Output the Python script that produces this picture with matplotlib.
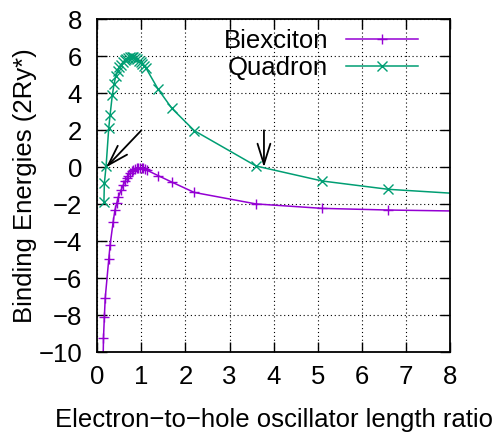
import numpy as np
import matplotlib
matplotlib.use("Agg")
import matplotlib.pyplot as plt

plt.rcParams['font.family'] = ['Liberation Sans', 'DejaVu Sans']
plt.rcParams['font.size'] = 18.5

# biexciton (purple, +)
bx = [0.13, 0.14, 0.16, 0.18, 0.26, 0.29, 0.36, 0.40, 0.44, 0.48, 0.54, 0.59,
      0.63, 0.67, 0.70, 0.74, 0.78, 0.82, 0.86, 0.89, 0.93, 0.97, 1.01, 1.04,
      1.08, 1.12, 1.38, 1.69, 2.2, 3.6, 5.1, 6.6, 8.3]
by = [-10.6, -9.24, -8.08, -7.05, -4.96, -4.2, -2.94, -2.31, -1.95, -1.59,
      -1.23, -0.96, -0.75, -0.6, -0.45, -0.32, -0.22, -0.15, -0.09, -0.05,
      -0.03, -0.03, -0.04, -0.06, -0.1, -0.15, -0.45, -0.8, -1.36, -1.98,
      -2.22, -2.31, -2.37]

# quadron (green, x)
qx = [0.15, 0.16, 0.2, 0.26, 0.29, 0.34, 0.38, 0.42, 0.46, 0.5, 0.54, 0.58,
      0.62, 0.66, 0.7, 0.74, 0.78, 0.82, 0.86, 0.9, 0.94, 0.98, 1.02, 1.06,
      1.1, 1.38, 1.69, 2.2, 3.6, 5.1, 6.6, 8.3]
qy = [-1.86, -0.86, 0.09, 2.14, 2.83, 3.9, 4.5, 4.95, 5.2, 5.4, 5.55, 5.68,
      5.78, 5.86, 5.92, 5.95, 5.96, 5.94, 5.9, 5.84, 5.76, 5.68, 5.58, 5.48,
      5.38, 4.22, 3.19, 1.98, 0.07, -0.74, -1.19, -1.44]

fig = plt.figure(figsize=(4.98, 4.34), dpi=100)
ax = fig.add_axes((0.1954, 0.1883, 0.7082, 0.7672))

ax.plot(bx, by, color='#9400d3', lw=1.1, marker='+', ms=7, mew=1,
        label='Biexciton')
ax.plot(qx, qy, color='#009e73', lw=1.1, marker='x', ms=7, mew=1,
        label='Quadron')

# arrows pointing at the zero crossings
arrow = dict(arrowstyle='->, head_length=0.8, head_width=0.25', color='black',
             lw=1.3, shrinkA=0, shrinkB=0)
ax.annotate('', xy=(0.2, 0.0), xytext=(1.0, 2.0), arrowprops=arrow)
ax.annotate('', xy=(3.78, 0.0), xytext=(3.78, 2.0), arrowprops=arrow)

ax.set_xlim(0, 8)
ax.set_ylim(-10, 8)
ax.set_xticks(np.arange(0, 9, 1))
ax.set_yticks(np.arange(-10, 9, 2))
ax.grid(True, color='black', lw=0.8, linestyle=(0, (1, 2.5)))
ax.tick_params(direction='in', top=True, right=True, length=7, width=1)
ax.tick_params(axis='x', pad=9)
ax.tick_params(axis='y', pad=11)
for s in ax.spines.values():
    s.set_linewidth(1.3)

ax.set_xlabel('Electron\u2212to\u2212hole oscillator length ratio', labelpad=14)
ax.set_ylabel('Binding Energies (2Ry*)', labelpad=1)

ax.legend(loc='upper right', bbox_to_anchor=(0.909, 0.972), frameon=False,
          markerfirst=False, handlelength=2.8, handletextpad=0.7,
          labelspacing=0.15, borderpad=0, borderaxespad=0, numpoints=1)

fig.savefig('out.png', dpi=100)
